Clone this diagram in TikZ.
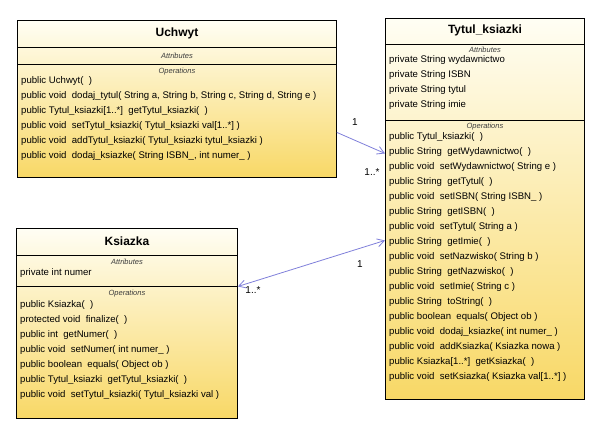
\documentclass[tikz,border=0pt]{standalone}
\usepackage{fontspec}
\setmainfont{Liberation Sans}
\usetikzlibrary{arrows.meta,positioning}
\definecolor{classtop}{HTML}{FFFEF4}
\definecolor{classbot}{HTML}{F8D866}
\definecolor{linkblue}{HTML}{7F7FDA}
\definecolor{lblgray}{HTML}{3C3C3C}

\begin{document}
\begin{tikzpicture}[
  x=1pt, y=-1pt,
  classbox/.style={draw=black, line width=0.9pt, top color=classtop, bottom color=classbot,
                   inner sep=0, anchor=north west},
  ctitle/.style={font=\fontsize{12}{14}\selectfont\bfseries, inner sep=0},
  slbl/.style={font=\fontsize{7.5}{9}\selectfont\itshape, text=lblgray, inner sep=0},
  mlbl/.style={font=\fontsize{9.6}{12}\selectfont, anchor=base west, inner sep=0},
  sep/.style={line width=0.8pt},
  assoc/.style={linkblue, line width=0.8pt},
  mult/.style={font=\fontsize{10}{12}\selectfont, inner sep=0},
]
\useasboundingbox (0,0) rectangle (598,430);

% =========================== Uchwyt ===========================
\node[classbox, minimum width=319pt, minimum height=157pt] (uchwyt) at (17,20) {};
\node[ctitle] (uchwyt-title) at (uchwyt.north |- 0,33.5) {Uchwyt};
\draw[sep] (uchwyt.west |- 0,47) -- (uchwyt.east |- 0,47);
\node[slbl] (uchwyt-attr) at (uchwyt.north |- 0,55.5) {Attributes};
\draw[sep] (uchwyt.west |- 0,64) -- (uchwyt.east |- 0,64);
\node[slbl] (uchwyt-ops) at (uchwyt.north |- 0,71.5) {Operations};
\foreach \t [count=\i] in {
  {public Uchwyt( \ )},
  {public void \ dodaj\_tytul( String a, String b, String c, String d, String e )},
  {public Tytul\_ksiazki[1..*] \ getTytul\_ksiazki( \ )},
  {public void \ setTytul\_ksiazki( Tytul\_ksiazki val[1..*] )},
  {public void \ addTytul\_ksiazki( Tytul\_ksiazki tytul\_ksiazki )},
  {public void \ dodaj\_ksiazke( String ISBN\_, int numer\_ )}}{
  \node[mlbl] (uchwyt-op\i) at (21, 69+15*\i) {\t};
}

% =========================== Tytul_ksiazki ===========================
\node[classbox, minimum width=199pt, minimum height=381pt] (tytul) at (385,18) {};
\node[ctitle] (tytul-title) at (tytul.north |- 0,30.5) {Tytul\_ksiazki};
\draw[sep] (tytul.west |- 0,44) -- (tytul.east |- 0,44);
\node[slbl] (tytul-attr) at (tytul.north |- 0,49.5) {Attributes};
\foreach \t [count=\i] in {wydawnictwo, ISBN, tytul, imie}{
  \node[mlbl] (tytul-at\i) at (389, 47.5+15*\i) {private String \t};
}
\draw[sep] (tytul.west |- 0,120) -- (tytul.east |- 0,120);
\node[slbl] (tytul-ops) at (tytul.north |- 0,126.5) {Operations};
\foreach \t [count=\i] in {
  {public Tytul\_ksiazki( \ )},
  {public String \ getWydawnictwo( \ )},
  {public void \ setWydawnictwo( String e )},
  {public String \ getTytul( \ )},
  {public void \ setISBN( String ISBN\_ )},
  {public String \ getISBN( \ )},
  {public void \ setTytul( String a )},
  {public String \ getImie( \ )},
  {public void \ setNazwisko( String b )},
  {public String \ getNazwisko( \ )},
  {public void \ setImie( String c )},
  {public String \ toString( \ )},
  {public boolean \ equals( Object ob )},
  {public void \ dodaj\_ksiazke( int numer\_ )},
  {public void \ addKsiazka( Ksiazka nowa )},
  {public Ksiazka[1..*] \ getKsiazka( \ )},
  {public void \ setKsiazka( Ksiazka val[1..*] )}}{
  \node[mlbl] (tytul-op\i) at (389, 125+15*\i) {\t};
}

% =========================== Ksiazka ===========================
\node[classbox, minimum width=221pt, minimum height=190pt] (ksiazka) at (16,228) {};
\node[ctitle] (ksiazka-title) at (ksiazka.north |- 0,241.5) {Ksiazka};
\draw[sep] (ksiazka.west |- 0,255) -- (ksiazka.east |- 0,255);
\node[slbl] (ksiazka-attr) at (ksiazka.north |- 0,262) {Attributes};
\node[mlbl] (ksiazka-at1) at (20,275.5) {private int numer};
\draw[sep] (ksiazka.west |- 0,286) -- (ksiazka.east |- 0,286);
\node[slbl] (ksiazka-ops) at (ksiazka.north |- 0,294) {Operations};
\foreach \t [count=\i] in {
  {public Ksiazka( \ )},
  {protected void \ finalize( \ )},
  {public int \ getNumer( \ )},
  {public void \ setNumer( int numer\_ )},
  {public boolean \ equals( Object ob )},
  {public Tytul\_ksiazki \ getTytul\_ksiazki( \ )},
  {public void \ setTytul\_ksiazki( Tytul\_ksiazki val )}}{
  \node[mlbl] (ksiazka-op\i) at (20, 292.5+15*\i) {\t};
}

% =========================== associations ===========================
\draw[assoc, -{Straight Barb[length=7pt, width=8pt]}]
  ([yshift=-33.5pt]uchwyt.east) -- ([yshift=55.5pt]tytul.west);
\node[mult] (m-uchwyt) at (355,122) {1};
\node[mult] (m-tytul1) at (372,172) {1..*};

\draw[assoc, {Straight Barb[length=7pt, width=8pt]}-{Straight Barb[length=7pt, width=8pt]}]
  ([yshift=37pt]ksiazka.east) -- ([yshift=-31.5pt]tytul.west);
\node[mult] (m-tytul2) at (360,264) {1};
\node[mult] (m-ksiazka) at (253,290) {1..*};

\end{tikzpicture}
\end{document}
